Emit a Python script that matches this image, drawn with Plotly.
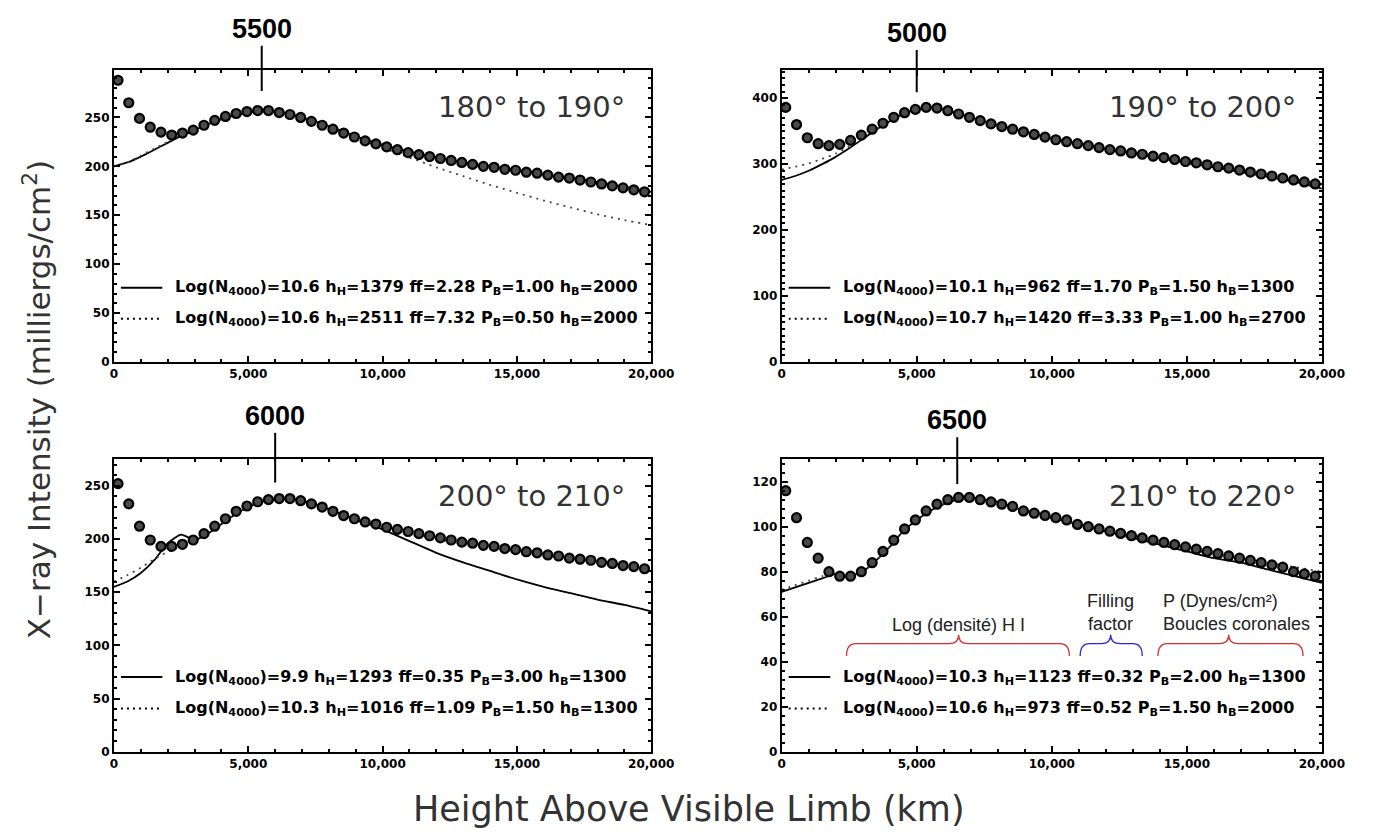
import plotly.graph_objects as go

# ---------------- data ----------------
HEIGHT_OBS = [150, 550, 950, 1350, 1750, 2150, 2550, 2950, 3350, 3750,
              4150, 4550, 4950, 5350, 5750, 6150, 6550, 6950, 7350, 7750,
              8150, 8550, 8950, 9350, 9750, 10150, 10550, 10950, 11350, 11750,
              12150, 12550, 12950, 13350, 13750, 14150, 14550, 14950, 15350, 15750,
              16150, 16550, 16950, 17350, 17750, 18150, 18550, 18950, 19350, 19750]

HEIGHT_MODEL = [0, 500, 1000, 1500, 2000, 2500, 3000, 3500, 4000, 4500,
                5000, 5500, 6000, 6500, 7000, 7500, 8000, 8500, 9000, 9500,
                10000, 11000, 12000, 13000, 14000, 15000, 16000, 17000, 18000, 19000, 20000]

PANEL_TITLES = ["180° to 190°", "190° to 200°", "200° to 210°", "210° to 220°"]
PEAK_HEIGHTS = [5500, 5000, 6000, 6500]

OBS_180 = [288, 265, 249, 240, 235, 232, 234, 237, 242, 247,
           251, 254, 256, 257, 257, 255, 253, 250, 246, 242,
           238, 234, 230, 226, 223, 220, 217, 214, 212, 210,
           208, 206, 204, 202, 200, 199, 197, 196, 194, 193,
           191, 189, 188, 186, 184, 182, 180, 178, 176, 174]
SOLID_180 = [200, 204, 210, 217, 224, 231, 237, 243, 248, 252,
             255, 257, 256, 254, 250, 246, 241, 236, 231, 226,
             222, 215, 209, 204, 200, 196, 192, 188, 184, 179, 174]
DOT_180 = [200, 204, 211, 218, 225, 232, 238, 243, 248, 252,
           255, 257, 256, 254, 250, 246, 240, 235, 229, 224,
           219, 209, 199, 190, 181, 173, 165, 158, 151, 145, 140]

OBS_190 = [386, 360, 340, 331, 328, 330, 336, 344, 353, 362,
           371, 378, 383, 386, 385, 381, 376, 371, 366, 361,
           357, 353, 349, 345, 341, 337, 334, 331, 328, 325,
           322, 320, 317, 315, 312, 310, 307, 304, 302, 299,
           296, 294, 291, 288, 285, 282, 279, 276, 273, 270]
SOLID_190 = [276, 282, 290, 300, 311, 324, 338, 352, 365, 376,
             383, 386, 383, 377, 371, 365, 359, 354, 349, 344,
             339, 331, 323, 316, 309, 302, 295, 288, 281, 273, 263]
DOT_190 = [292, 296, 301, 308, 316, 327, 340, 353, 366, 376,
           383, 386, 383, 377, 371, 365, 359, 354, 349, 344,
           339, 332, 325, 318, 311, 305, 298, 291, 284, 277, 269]

OBS_200 = [252, 233, 212, 199, 193, 193, 195, 199, 205, 212,
           219, 226, 231, 235, 237, 238, 238, 236, 233, 230,
           226, 222, 219, 216, 214, 211, 209, 207, 205, 203,
           201, 199, 197, 196, 194, 193, 191, 190, 188, 187,
           185, 184, 182, 181, 180, 178, 177, 175, 174, 172]
SOLID_200 = [155, 160, 168, 180, 196, 204, 199, 205, 214, 223,
             230, 235, 238, 238, 236, 232, 228, 223, 218, 214,
             209, 198, 187, 178, 170, 162, 155, 149, 143, 138, 132]
DOT_200 = [160, 166, 173, 181, 188, 194, 199, 205, 214, 223,
           230, 235, 238, 238, 236, 232, 228, 223, 219, 215,
           212, 206, 200, 195, 192, 189, 186, 182, 179, 175, 171]

OBS_210 = [116, 104, 93, 86, 80, 78, 78, 80, 84, 89,
           94, 99, 103, 107, 110, 112, 113, 113, 112, 111,
           110, 109, 107, 106, 105, 104, 103, 101, 100, 99,
           98, 97, 96, 95, 94, 93, 92, 91, 90, 89,
           88, 87, 86, 85, 84, 83, 82, 80, 79, 78]
SOLID_210 = [71, 73, 75, 77, 79, 78, 80, 85, 91, 98,
             103, 107, 110, 112, 113, 112, 111, 109, 107, 106,
             104, 101, 98, 95, 92, 89, 86, 84, 81, 78, 75]
DOT_210 = [72, 74, 76, 78, 79, 78, 80, 85, 91, 98,
           103, 107, 110, 112, 113, 112, 111, 109, 107, 106,
           104, 101, 98, 95, 93, 90, 88, 86, 84, 82, 80]

OBS = [OBS_180, OBS_190, OBS_200, OBS_210]
SOLID = [SOLID_180, SOLID_190, SOLID_200, SOLID_210]
DOTTED = [DOT_180, DOT_190, DOT_200, DOT_210]

LEGEND_SOLID = [
    "Log(N<sub>4000</sub>)=10.6 h<sub>H</sub>=1379 ff=2.28 P<sub>B</sub>=1.00 h<sub>B</sub>=2000",
    "Log(N<sub>4000</sub>)=10.1 h<sub>H</sub>=962 ff=1.70 P<sub>B</sub>=1.50 h<sub>B</sub>=1300",
    "Log(N<sub>4000</sub>)=9.9 h<sub>H</sub>=1293 ff=0.35 P<sub>B</sub>=3.00 h<sub>B</sub>=1300",
    "Log(N<sub>4000</sub>)=10.3 h<sub>H</sub>=1123 ff=0.32 P<sub>B</sub>=2.00 h<sub>B</sub>=1300",
]
LEGEND_DOTTED = [
    "Log(N<sub>4000</sub>)=10.6 h<sub>H</sub>=2511 ff=7.32 P<sub>B</sub>=0.50 h<sub>B</sub>=2000",
    "Log(N<sub>4000</sub>)=10.7 h<sub>H</sub>=1420 ff=3.33 P<sub>B</sub>=1.00 h<sub>B</sub>=2700",
    "Log(N<sub>4000</sub>)=10.3 h<sub>H</sub>=1016 ff=1.09 P<sub>B</sub>=1.50 h<sub>B</sub>=1300",
    "Log(N<sub>4000</sub>)=10.6 h<sub>H</sub>=973 ff=0.52 P<sub>B</sub>=1.50 h<sub>B</sub>=2000",
]

Y_TICKS = [[0, 50, 100, 150, 200, 250],
           [0, 100, 200, 300, 400],
           [0, 50, 100, 150, 200, 250],
           [0, 20, 40, 60, 80, 100, 120]]
X_TICKS = [0, 5000, 10000, 15000, 20000]

# ---------------- layout helpers ----------------
W, H = 1382, 834
Y_RANGES = [[0, 298], [0, 442], [0, 275], [0, 130]]
Y_MINOR = [10, 10, 10, 4]
X_DOM = [[104 / W, 652 / W], [785 / W, 1336 / W]]
Y_DOM = [[1 - 357 / H, 1 - 63 / H], [1 - 750 / H, 1 - 455 / H]]
PEAK_LINE = [(0.93, 1.085), (0.925, 1.07), (0.92, 1.09), (0.915, 1.075)]

fig = go.Figure()
shapes = []
annotations = []

TICKFONT = dict(family="DejaVu Sans", size=12, color="black", weight="bold")

for i in range(4):
    n = "" if i == 0 else str(i + 1)
    xa, ya = "x" + n, "y" + n
    col, row = i % 2, i // 2

    fig.add_trace(go.Scatter(x=HEIGHT_MODEL, y=SOLID[i], mode="lines",
                             line=dict(color="black", width=1.8, shape="spline", smoothing=0.6),
                             xaxis=xa, yaxis=ya, showlegend=False))
    fig.add_trace(go.Scatter(x=HEIGHT_MODEL, y=DOTTED[i], mode="lines",
                             line=dict(color="#444", width=1.8, dash="2px,5px", shape="spline", smoothing=0.6),
                             xaxis=xa, yaxis=ya, showlegend=False))
    fig.add_trace(go.Scatter(x=HEIGHT_OBS, y=OBS[i], mode="markers",
                             marker=dict(symbol="circle", size=9, color="#4a4a4a",
                                         line=dict(color="black", width=2.2)),
                             xaxis=xa, yaxis=ya, showlegend=False))

    axis_common = dict(showline=True, linewidth=2, linecolor="black", mirror="ticks",
                       ticks="inside", ticklen=6, tickwidth=1.5, tickcolor="black",
                       showgrid=False, zeroline=False, tickfont=TICKFONT)
    fig.layout["xaxis" + n] = dict(domain=X_DOM[col], anchor=ya, range=[0, 20000],
                                   tickvals=X_TICKS, tickformat=",",
                                   minor=dict(dtick=1000, ticklen=3, tickcolor="black", ticks="inside"),
                                   **axis_common)
    fig.layout["yaxis" + n] = dict(domain=Y_DOM[row], anchor=xa, range=Y_RANGES[i],
                                   tickvals=Y_TICKS[i],
                                   minor=dict(dtick=Y_MINOR[i], ticklen=3, tickcolor="black", ticks="inside"),
                                   **axis_common)

    xd, yd = xa + " domain", ya + " domain"
    # peak marker line and label
    y0, y1 = PEAK_LINE[i]
    shapes.append(dict(type="line", xref=xa, yref=yd, x0=PEAK_HEIGHTS[i], x1=PEAK_HEIGHTS[i],
                       y0=y0, y1=y1, line=dict(color="black", width=2)))
    annotations.append(dict(xref=xa, yref=yd, x=PEAK_HEIGHTS[i], y=y1, yanchor="bottom",
                            text=str(PEAK_HEIGHTS[i]), showarrow=False,
                            font=dict(family="Liberation Sans Narrow, Liberation Sans", size=27,
                                      color="black", weight="bold")))
    # panel title
    annotations.append(dict(xref=xd, yref=yd, x=0.955, y=0.875, xanchor="right", yanchor="middle",
                            text=PANEL_TITLES[i], showarrow=False,
                            font=dict(family="DejaVu Sans", size=29, color="#333")))
    # legend
    for k, (txt, dash, yy) in enumerate([(LEGEND_SOLID[i], "solid", 0.255),
                                          (LEGEND_DOTTED[i], "2px,4px", 0.148)]):
        shapes.append(dict(type="line", xref=xd, yref=yd, x0=0.013, x1=0.09, y0=yy, y1=yy,
                           line=dict(color="black", width=2, dash=dash)))
        annotations.append(dict(xref=xd, yref=yd, x=0.11, y=yy, xanchor="left", yanchor="middle",
                                text=txt, showarrow=False,
                                font=dict(family="DejaVu Sans", size=16, color="black", weight="bold")))

# ---------- bottom-right explanation ----------
def brace(x0, x1, xt, ye, ym, yt, w):
    return (f"M {x0},{ye} Q {x0},{ym} {x0 + w},{ym} L {xt - w},{ym} "
            f"Q {xt},{ym} {xt},{yt} Q {xt},{ym} {xt + w},{ym} L {x1 - w},{ym} "
            f"Q {x1},{ym} {x1},{ye}")

BRACES = [(2400, 10650, 6550, "#d03030"), (11050, 13350, 12180, "#2a2ad0"), (13930, 19300, 16550, "#d03030")]
for bx0, bx1, bxt, bc in BRACES:
    shapes.append(dict(type="path", xref="x4", yref="y4", path=brace(bx0, bx1, bxt, 42.5, 48, 52, 350),
                       line=dict(color=bc, width=1.3)))
LABFONT = dict(family="Liberation Sans", size=18, color="#222")
annotations.append(dict(xref="x4", yref="y4", x=6550, y=56.5, text="Log (densité) H I", showarrow=False,
                        xanchor="center", yanchor="middle", font=LABFONT))
annotations.append(dict(xref="x4", yref="y4", x=12180, y=62, text="Filling<br>factor", showarrow=False,
                        xanchor="center", yanchor="middle", align="center", font=LABFONT))
annotations.append(dict(xref="x4", yref="y4", x=14050, y=62, text="P (Dynes/cm²)<br>Boucles coronales",
                        showarrow=False, xanchor="left", yanchor="middle", align="left", font=LABFONT))

# ---------- global axis titles ----------
annotations.append(dict(xref="paper", yref="paper", x=25 / W, y=1 - 395 / H, textangle=-90,
                        text="X−ray Intensity (milliergs/cm<sup>2</sup>)", showarrow=False,
                        xanchor="center", yanchor="middle",
                        font=dict(family="DejaVu Sans", size=31, color="#333")))
annotations.append(dict(xref="paper", yref="paper", x=690 / W, y=1 - 808 / H,
                        text="Height Above Visible Limb (km)", showarrow=False,
                        xanchor="center", yanchor="middle",
                        font=dict(family="DejaVu Sans", size=35, color="#333")))

fig.update_layout(width=W, height=H, margin=dict(l=0, r=0, t=0, b=0),
                  paper_bgcolor="white", plot_bgcolor="white",
                  shapes=shapes, annotations=annotations, showlegend=False)

fig.write_html("out.html")
